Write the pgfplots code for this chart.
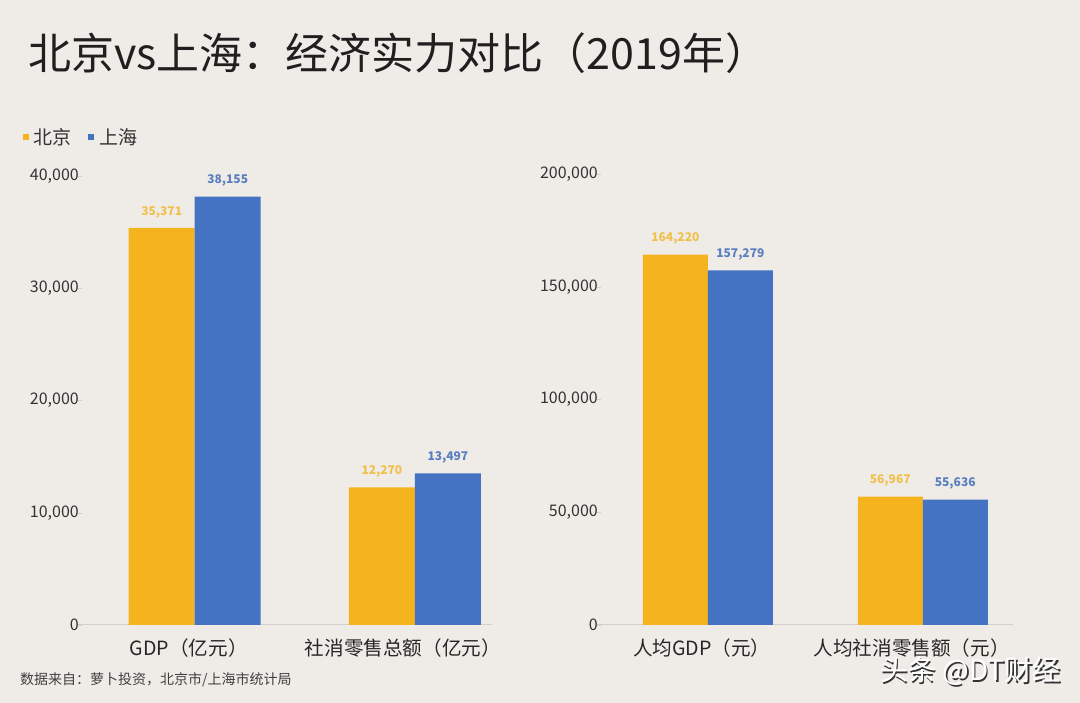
\documentclass[border=0pt]{standalone}
\usepackage{fontspec}
\setmainfont{Noto Sans CJK SC}
\usepackage{pgfplots}
\pgfplotsset{compat=1.18}
\definecolor{bg}{HTML}{EFECE8}
\definecolor{yel}{HTML}{F5B41E}
\definecolor{blu}{HTML}{4573C4}
\definecolor{yellab}{HTML}{EFC04A}
\definecolor{blulab}{HTML}{5A7FC0}
\definecolor{linec}{HTML}{D3CFCA}
\definecolor{txt}{HTML}{333333}
\pgfplotsset{
  mypanel/.style={
    scale only axis,
    anchor=south west,
    clip=false,
    axis lines*=left,
    x axis line style={draw=linec, line width=1pt},
    y axis line style={draw=none},
    ymin=0,
    xtick={0,1},
    xtick style={draw=none},
    ytick style={draw=linec},
    major tick length=4pt,
    tick align=inside,
    scaled y ticks=false,
    /pgf/number format/.cd, fixed, 1000 sep={,}, assume math mode=true,
    /pgfplots/.cd,
    yticklabel style={font=\fontsize{16}{18}\selectfont, text=txt, inner sep=0pt, anchor=east, xshift=1pt},
    xticklabel style={font=\fontsize{19.6}{22}\selectfont, text=black!85, inner sep=0pt, anchor=center, yshift=-19pt, xshift=-6pt},
    ybar=0pt,
    point meta=explicit symbolic,
    nodes near coords,
    nodes near coords style={font=\bfseries\fontsize{12}{14}\selectfont, anchor=center, yshift=16pt, inner sep=0pt},
  }
}
\begin{document}
\begin{tikzpicture}[x=1pt,y=1pt]
\fill[bg] (0,0) rectangle (1080,703);
% title
\node[anchor=west, inner sep=0pt, font=\fontsize{43}{47}\selectfont, text=black!88] at (28,650) {北京vs上海：经济实力对比（2019年）};
% legend
\fill[yel] (23,563) rectangle (29,569);
\node[anchor=west, inner sep=0pt, font=\fontsize{19}{21}\selectfont, text=txt] at (33,566) {北京};
\fill[blu] (88,563) rectangle (94,569);
\node[anchor=west, inner sep=0pt, font=\fontsize{19}{21}\selectfont, text=txt] at (99,566) {上海};
% left panel
\begin{axis}[mypanel, at={(78pt,78pt)}, width=414pt, height=449pt,
  xmin=-0.53, xmax=1.35, ymax=40000,
  ytick={0,10000,20000,30000,40000},
  xticklabels={GDP（亿元）, {社消零售总额（亿元）\hspace*{12pt}}}]
\addplot[fill=yel, draw=none, bar width=66pt, bar shift=-33pt,
  nodes near coords style={text=yellab}] coordinates {(0,35371) [35,371] (1,12270) [12,270]};
\addplot[fill=blu, draw=none, bar width=66pt, bar shift=33pt,
  nodes near coords style={text=blulab}] coordinates {(0,38155) [38,155] (1,13497) [13,497]};
\end{axis}
% right panel
\begin{axis}[mypanel, at={(597pt,78pt)}, width=416pt, height=451pt,
  xmin=-0.516, xmax=1.42, ymax=200000,
  ytick={0,50000,100000,150000,200000},
  xticklabels={人均GDP（元）, {人均社消零售额（元）\hspace*{10pt}}}]
\addplot[fill=yel, draw=none, bar width=65pt, bar shift=-32.5pt,
  nodes near coords style={text=yellab}] coordinates {(0,164220) [164,220] (1,56967) [56,967]};
\addplot[fill=blu, draw=none, bar width=65pt, bar shift=32.5pt,
  nodes near coords style={text=blulab}] coordinates {(0,157279) [157,279] (1,55636) [55,636]};
\end{axis}
% source
\node[anchor=west, inner sep=0pt, font=\fontsize{14}{16}\selectfont, text=black!75] at (20,23) {数据来自：萝卜投资，北京市/上海市统计局};
% watermark
\node[inner sep=0pt, font=\fontsize{28}{30}\selectfont, text=black!80] at (972,30) {头条 @DT财经};
\node[inner sep=0pt, font=\fontsize{28}{30}\selectfont, text=white] at (970.5,31.5) {头条 @DT财经};
\end{tikzpicture}
\end{document}
